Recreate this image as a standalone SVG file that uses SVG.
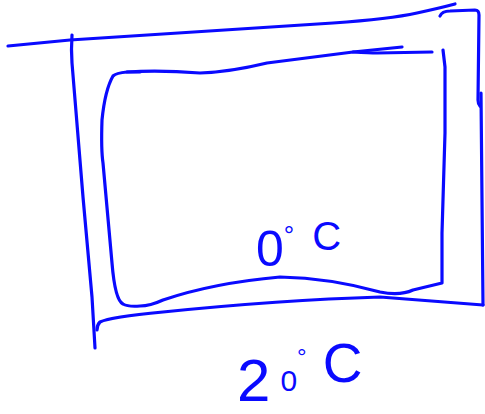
<svg xmlns="http://www.w3.org/2000/svg" width="485" height="414" viewBox="0 0 485 414">
<style>
.s{fill:none;stroke:#0a0aff;stroke-width:3.2;stroke-linecap:round;stroke-linejoin:round}
.t{fill:#0a0aff;font-family:"Liberation Sans",Arial,sans-serif}
</style>
<rect width="485" height="414" fill="#ffffff"/>
<g id="outer-box">
<path class="s" d="M8,46 L70,40 Q250,28 333,23 Q390,19 417,13 Q440,8 455,4"/>
<path class="s" d="M440,16 Q442,11 450,11 L475,10 Q479,10 479,15 L478,100 Q478,104 480,106"/>
<path class="s" d="M481,93 L482,200 L483,305"/>
<path class="s" d="M483,305 L380,297 Q280,300 163,312 Q110,317 100,322 Q97,325 97,330"/>
<path class="s" d="M72,35 Q71,50 72,63 L83,197 L92,297 L95,348"/>
</g>
<g id="inner-box">
<path class="s" d="M140,72 L127,72 Q116,73 113,76 Q105,90 102,120 Q101,150 103,163 L112,263 Q115,300 123,304 Q128,307 140,306 Q150,306 163,300 Q213,283 280,277 Q330,278 380,292 Q400,296 413,290 L442,283 L442,233 L445,133 L445,67 L443,50"/>
<path class="s" d="M127,72 Q160,70 200,73 Q230,72 267,63 L353,52 L402,47"/>
<path class="s" d="M353,52 Q370,53 377,53 L432,52"/>
</g>
<g id="label-inner">
<text class="t" x="256" y="266" font-size="50">0<tspan font-size="26" dy="-22">°</tspan><tspan font-size="40" dx="18" dy="6">C</tspan></text>
</g>
<g id="label-outer">
<text class="t" x="237" y="401" font-size="60">2<tspan font-size="30" dx="10" dy="-10">0</tspan><tspan font-size="24" dy="-26">°</tspan><tspan font-size="55" dx="16" dy="17">C</tspan></text>
</g>
</svg>
